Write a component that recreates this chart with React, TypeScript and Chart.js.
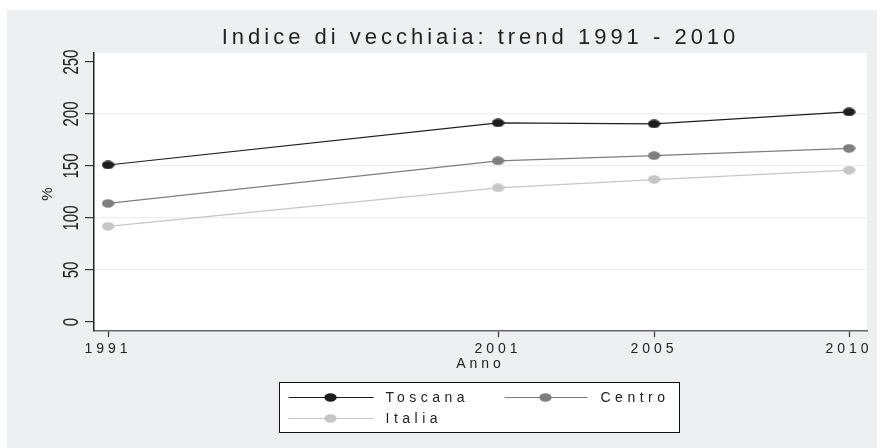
import { useEffect, useRef } from "react";
import { Chart, registerables } from "chart.js";

Chart.register(...registerables);

const years = [1991, 2001, 2005, 2010];
const xTickValues = [1991, 2001, 2005, 2010];
const yTickValues = [0, 50, 100, 150, 200, 250];
const toscana = [151, 191.5, 190.5, 202];
const centro = [114, 155, 160, 167];
const italia = [92, 129, 137, 146];
const seriesNames = ["Toscana", "Centro", "Italia"];
const seriesColors = ["#1e1e1e", "#7e7e7e", "#c6c6c6"];
const titleText = "Indice di vecchiaia: trend 1991 - 2010";
const xTitle = "Anno";
const yTitle = "%";

const FONT = "'Liberation Sans', Arial, sans-serif";

function makeDot(color: string, w: number, h: number) {
  const c = document.createElement("canvas");
  c.width = w;
  c.height = h;
  const g = c.getContext("2d")!;
  g.fillStyle = color;
  g.beginPath();
  g.ellipse(w / 2, h / 2, w / 2 - 0.3, h / 2 - 0.3, 0, 0, Math.PI * 2);
  g.fill();
  return c;
}

export default function App() {
  const ref = useRef<HTMLCanvasElement | null>(null);

  useEffect(() => {
    if (!ref.current) return;
    const dots = seriesColors.map((c) => makeDot(c, 13, 9));
    const seriesValues = [toscana, centro, italia];

    const bgPlugin = {
      id: "bg",
      beforeDraw(chart: any) {
        const { ctx, chartArea, width, height } = chart;
        ctx.letterSpacing = "4px";
        ctx.save();
        ctx.fillStyle = "#eeeff1";
        ctx.fillRect(0, 0, width, height);
        ctx.fillStyle = "#ffffff";
        ctx.fillRect(chartArea.left, chartArea.top, chartArea.right - chartArea.left, chartArea.bottom - chartArea.top);
        ctx.restore();
      },
    };

    const yLabelPlugin = {
      id: "ylabels",
      afterDraw(chart: any) {
        const { ctx } = chart;
        const ys = chart.scales.y;
        ctx.save();
        ctx.letterSpacing = "0px";
        ctx.fillStyle = "#222";
        ctx.font = `15px ${FONT}`;
        ctx.textAlign = "center";
        ctx.textBaseline = "middle";
        yTickValues.forEach((v) => {
          const py = ys.getPixelForValue(v);
          ctx.save();
          ctx.translate(64.7, py);
          ctx.rotate(-Math.PI / 2);
          ctx.scale(1, 1.45);
          ctx.fillText(String(v), 0, 0);
          ctx.restore();
        });
        ctx.restore();
      },
    };

    const legendPlugin = {
      id: "stataLegend",
      afterDraw(chart: any) {
        const { ctx, chartArea } = chart;
        const bw = 400;
        const bh = 50;
        const left = Math.round((chartArea.left + chartArea.right) / 2 - bw / 2) - 1.5;
        const top = chartArea.bottom + 51.5;
        ctx.save();
        ctx.fillStyle = "#ffffff";
        ctx.fillRect(left, top, bw, bh);
        ctx.strokeStyle = "#111";
        ctx.lineWidth = 1;
        ctx.strokeRect(left, top, bw, bh);
        const cols = [
          { line0: 9, line1: 94, mark: 51, text: 106 },
          { line0: 225, line1: 308, mark: 266, text: 321 },
        ];
        const rows = [15, 36];
        ctx.font = `14px ${FONT}`;
        ctx.letterSpacing = "4.5px";
        ctx.textBaseline = "middle";
        ctx.textAlign = "left";
        chart.data.datasets.forEach((ds: any, i: number) => {
          const col = cols[i % 2];
          const ry = top + rows[Math.floor(i / 2)];
          ctx.strokeStyle = ds.borderColor;
          ctx.lineWidth = 1.2;
          ctx.beginPath();
          ctx.moveTo(left + col.line0, ry);
          ctx.lineTo(left + col.line1, ry);
          ctx.stroke();
          const img = ds.pointStyle;
          ctx.drawImage(img, left + col.mark - img.width / 2, ry - img.height / 2);
          ctx.fillStyle = "#222";
          ctx.fillText(ds.label, left + col.text, ry + 1);
        });
        ctx.restore();
      },
    };

    const chart = new Chart(ref.current, {
      type: "line",
      data: {
        datasets: seriesNames.map((name, i) => ({
          label: name,
          data: years.map((y, j) => ({ x: y, y: seriesValues[i][j] })),
          borderColor: seriesColors[i],
          backgroundColor: seriesColors[i],
          borderWidth: 1.2,
          pointStyle: dots[i] as any,
          pointRadius: 6,
          tension: 0,
        })),
      },
      options: {
        animation: false,
        responsive: false,
        events: [],
        layout: { padding: { left: 0, top: 5.4, right: 10, bottom: 75.1 } },
        plugins: {
          legend: { display: false },
          tooltip: { enabled: false },
          title: {
            display: true,
            text: titleText,
            fullSize: false,
            color: "#222",
            font: { family: FONT, size: 22, weight: "normal" },
            padding: { top: 9.4, bottom: 1.8 },
          },
        },
        scales: {
          x: {
            type: "linear",
            min: 1990.64,
            max: 2010.46,
            afterBuildTicks: (s: any) => {
              s.ticks = xTickValues.map((v) => ({ value: v }));
            },
            afterFit: (s: any) => {
              s.height = 41.9;
            },
            ticks: {
              color: "#222",
              font: { family: FONT, size: 14 },
              padding: 4,
              maxRotation: 0,
              autoSkip: false,
              callback: (v: any) => String(v),
            },
            grid: {
              drawOnChartArea: false,
              tickLength: 6,
              tickColor: "#333",
              tickWidth: 1.2,
            },
            border: { color: "#666", width: 1.5 },
            title: {
              display: true,
              text: xTitle,
              color: "#222",
              font: { family: FONT, size: 14 },
              padding: 0,
            },
          },
          y: {
            type: "linear",
            min: -8.65,
            max: 258.7,
            afterBuildTicks: (s: any) => {
              s.ticks = yTickValues.map((v) => ({ value: v }));
            },
            afterFit: (s: any) => {
              s.width = 87;
            },
            ticks: { display: false },
            grid: {
              color: (c: any) =>
                c.tick && (c.tick.value === 0 || c.tick.value === 250) ? "rgba(0,0,0,0)" : "#eeeeee",
              lineWidth: 1.2,
              tickLength: 9,
              tickColor: "#333",
              tickWidth: 1.2,
            },
            border: { color: "#222", width: 1.5 },
            title: {
              display: true,
              text: yTitle,
              color: "#222",
              font: { family: FONT, size: 15 },
              padding: { top: 31.5, bottom: 0 },
            },
          },
        },
      },
      plugins: [bgPlugin, yLabelPlugin, legendPlugin],
    } as any);

    return () => chart.destroy();
  }, []);

  return (
    <div style={{ position: "absolute", left: 7, top: 10, width: 870, height: 438 }}>
      <canvas ref={ref} width={870} height={438} style={{ display: "block" }} />
    </div>
  );
}
